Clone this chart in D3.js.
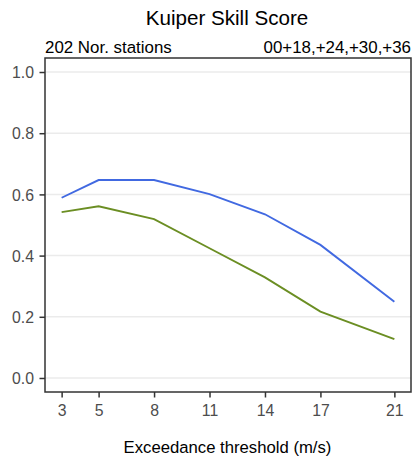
<!DOCTYPE html>
<html><head><meta charset="utf-8">
<script src="https://cdn.jsdelivr.net/npm/d3@7"></script>
<style>body{margin:0;background:#fff;} text{font-family:"Liberation Sans",Arial,sans-serif;}</style>
</head><body>
<svg id="chart" width="419" height="459"></svg>
<script>
const thresholds = [3, 5, 8, 11, 14, 17, 21];
const seriesBlue = [0.589, 0.647, 0.647, 0.601, 0.535, 0.435, 0.249];
const seriesGreen = [0.542, 0.561, 0.519, 0.424, 0.329, 0.217, 0.127];
const yTicks = [0.0, 0.2, 0.4, 0.6, 0.8, 1.0];
const title = "Kuiper Skill Score";
const subLeft = "202 Nor. stations";
const subRight = "00+18,+24,+30,+36";
const xTitle = "Exceedance threshold (m/s)";

const svg = d3.select("#chart");
const L = 45, R = 411, T = 58, B = 392;
const x = d3.scaleLinear().domain([2.1, 21.9]).range([L, R]);
const y = d3.scaleLinear().domain([-0.0458, 1.0458]).range([B, T]);

// grid
svg.append("g").selectAll("line").data(yTicks).join("line")
  .attr("x1", L).attr("x2", R).attr("y1", d => y(d)).attr("y2", d => y(d))
  .attr("stroke", "#EBEBEB").attr("stroke-width", 1.5);

const line = d3.line().x((d, i) => x(thresholds[i])).y(d => y(d));
svg.append("path").datum(seriesGreen).attr("d", line).attr("fill", "none")
  .attr("stroke", "#6B8E23").attr("stroke-width", 1.9);
svg.append("path").datum(seriesBlue).attr("d", line).attr("fill", "none")
  .attr("stroke", "#4169E1").attr("stroke-width", 1.9);

// panel border
svg.append("rect").attr("x", L).attr("y", T).attr("width", R - L).attr("height", B - T)
  .attr("fill", "none").attr("stroke", "#333333").attr("stroke-width", 1.5);

// axes
const xAxis = d3.axisBottom(x).tickValues(thresholds).tickSize(5.5).tickPadding(7.5).tickFormat(d3.format("d"));
const gx = svg.append("g").attr("transform", `translate(0,${B})`).call(xAxis);
const yAxis = d3.axisLeft(y).tickValues(yTicks).tickSize(5.5).tickPadding(5.5).tickFormat(d3.format(".1f"));
const gy = svg.append("g").attr("transform", `translate(${L},0)`).call(yAxis);
[gx, gy].forEach(g => {
  g.select(".domain").remove();
  g.selectAll(".tick line").attr("stroke", "#333333").attr("stroke-width", 1.5);
  g.selectAll(".tick text").attr("fill", "#4D4D4D").style("font-size", "15.8px")
    .style("font-family", '"Liberation Sans",Arial,sans-serif');
});
gy.selectAll(".tick text").attr("dy", "0.36em");

svg.append("text").attr("x", 227).attr("y", 25).attr("text-anchor", "middle")
  .style("font-size", "20.6px").attr("fill", "#000").text(title);
svg.append("text").attr("x", L).attr("y", 53).attr("text-anchor", "start")
  .style("font-size", "16.9px").attr("fill", "#000").text(subLeft);
svg.append("text").attr("x", R).attr("y", 53).attr("text-anchor", "end")
  .style("font-size", "16.9px").attr("fill", "#000").text(subRight);
svg.append("text").attr("x", 227.5).attr("y", 453).attr("text-anchor", "middle")
  .style("font-size", "16.7px").attr("fill", "#000").text(xTitle);
</script>
</body></html>
